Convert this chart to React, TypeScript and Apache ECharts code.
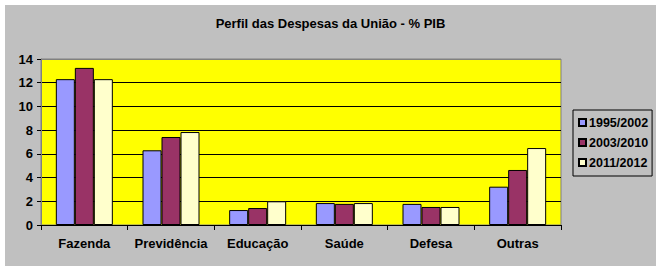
import React, { useEffect, useRef } from "react";
import * as echarts from "echarts";

const categories = ["Fazenda", "Previdência", "Educação", "Saúde", "Defesa", "Outras"];
const seriesNames = ["1995/2002", "2003/2010", "2011/2012"];
const values1995 = [12.3, 6.3, 1.26, 1.85, 1.78, 3.23];
const values2003 = [13.25, 7.42, 1.43, 1.78, 1.52, 4.64];
const values2011 = [12.3, 7.84, 2.0, 1.85, 1.52, 6.49];
const seriesColors = ["#9999FF", "#993366", "#FFFFCC"];
const titleText = "Perfil das Despesas da União - % PIB";

export default function App() {
  const ref = useRef<HTMLDivElement>(null);
  useEffect(() => {
    if (!ref.current) return;
    const chart = echarts.init(ref.current, null, { renderer: "svg" });
    const font = "'Liberation Sans', Arial, sans-serif";
    const data = [values1995, values2003, values2011];
    chart.setOption({
      animation: false,
      backgroundColor: "transparent",
      title: {
        text: titleText,
        left: "center",
        top: 12,
        textStyle: { fontFamily: font, fontWeight: "bold", fontSize: 13, color: "#000" },
      },
      legend: {
        orient: "vertical",
        left: 573,
        top: 110,
        width: 78,
        padding: [6, 4, 7, 5],
        itemGap: 7,
        itemWidth: 7,
        itemHeight: 7,
        icon: "rect",
        borderColor: "#000",
        borderWidth: 1,
        backgroundColor: "#C0C0C0",
        textStyle: { fontFamily: font, fontWeight: "bold", fontSize: 12.5, color: "#000", padding: [0, 0, 0, -2] },
        data: seriesNames,
      },
      grid: {
        left: 41,
        right: 100,
        top: 59,
        bottom: 46,
        show: true,
        backgroundColor: "#FFFF00",
        borderColor: "#808080",
        borderWidth: 1,
        containLabel: false,
      },
      xAxis: {
        type: "category",
        data: categories,
        axisLine: { lineStyle: { color: "#000", width: 1 } },
        axisTick: { show: true, length: 5, lineStyle: { color: "#000" } },
        axisLabel: {
          interval: 0,
          fontFamily: font,
          fontWeight: "bold",
          fontSize: 13,
          color: "#000",
          margin: 12,
        },
      },
      yAxis: {
        type: "value",
        min: 0,
        max: 14,
        interval: 2,
        axisLine: { show: true, lineStyle: { color: "#808080" } },
        axisTick: { show: true, length: 4, lineStyle: { color: "#000" } },
        axisLabel: {
          fontFamily: font,
          fontWeight: "bold",
          fontSize: 13,
          color: "#000",
          margin: 8,
        },
        splitLine: {
          show: true,
          lineStyle: {
            color: ["#808080", "#000", "#000", "#000", "#000", "#000", "#000", "#808080"],
            width: 1,
          },
        },
      },
      series: seriesNames.map((name, i) => ({
        name,
        type: "bar",
        data: data[i],
        barWidth: 19,
        barGap: "0%",
        itemStyle: { color: seriesColors[i], borderColor: "#000", borderWidth: 1 },
      })),
    });
    return () => chart.dispose();
  }, []);
  return (
    <div style={{ position: "fixed", left: 0, top: 0, width: 661, height: 271, background: "#fff" }}>
      <div style={{ position: "absolute", left: 5, top: 5, width: 651, height: 261, background: "#C0C0C0" }} />
      <div ref={ref} style={{ position: "absolute", left: 0, top: 0, width: 661, height: 271 }} />
    </div>
  );
}
